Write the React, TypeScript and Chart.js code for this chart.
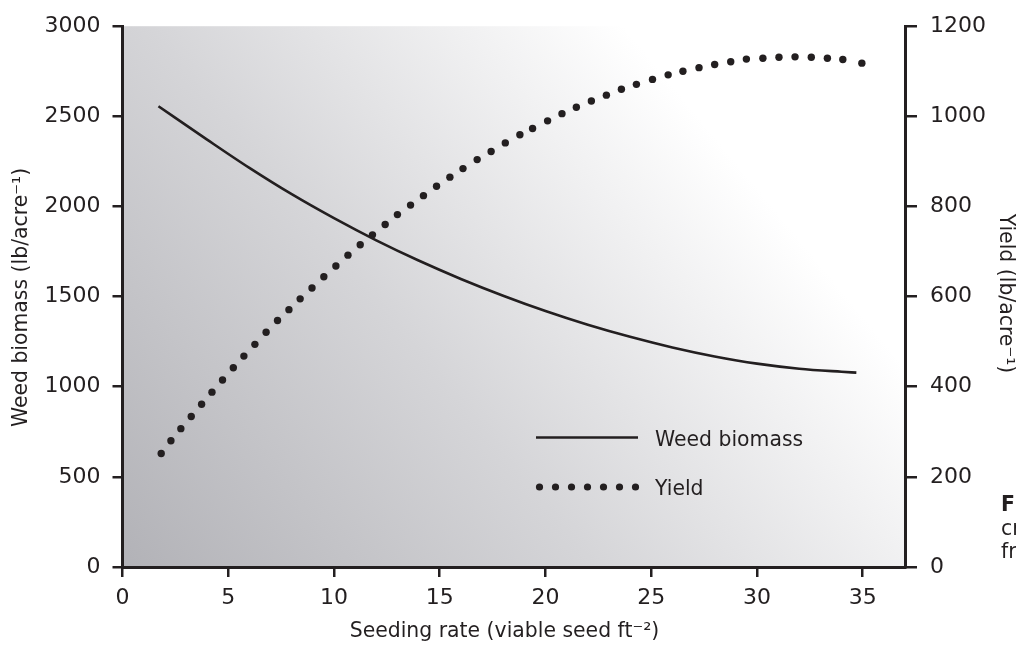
import React, { useEffect, useRef } from 'react';
import { Chart, registerables } from 'chart.js';

Chart.register(...registerables);

// ---- data ----
const xMin = 0;
const xMax = 37;
const xStep = 5;
const yLeftMax = 3000;
const yLeftStep = 500;
const yRightMax = 1200;
const yRightStep = 200;

const biomassX = [1.7, 4, 6, 8, 10, 12, 14, 16, 18, 20, 22, 24, 26, 28, 30, 32, 34, 34.7];
const biomassY = [2556, 2371, 2214, 2068, 1935, 1812, 1700, 1598, 1505, 1420, 1344, 1277, 1218, 1168, 1128, 1100, 1083, 1078];

const yieldX = [
  1.83, 2.29, 2.76, 3.25, 3.74, 4.23, 4.73, 5.24, 5.74, 6.26,
  6.79, 7.33, 7.87, 8.4, 8.96, 9.52, 10.09, 10.66, 11.24, 11.82,
  12.42, 13.0, 13.62, 14.23, 14.85, 15.48, 16.1, 16.77, 17.43, 18.1,
  18.79, 19.39, 20.1, 20.78, 21.46, 22.17, 22.88, 23.59, 24.3, 25.06,
  25.8, 26.5, 27.26, 28.0, 28.76, 29.5, 30.28, 31.04, 31.8, 32.57,
  33.33, 34.06, 34.96,
];
const yieldY = [
  252, 280, 307, 334, 361, 388, 415, 442, 468, 494,
  521, 547, 571, 595, 619, 644, 668, 692, 715, 737,
  760, 782, 803, 824, 845, 865, 884, 904, 922, 941,
  959, 973, 990, 1006, 1020, 1034, 1047, 1060, 1071, 1082,
  1092, 1100, 1108, 1115, 1121, 1127, 1129, 1131, 1132, 1131,
  1129, 1126, 1118,
];

const seriesLabels = ['Weed biomass', 'Yield'];
const xTitle = 'Seeding rate (viable seed ft\u207B\u00B2)';
const yLeftTitle = 'Weed biomass (lb/acre\u207B\u00B9)';
const yRightTitle = 'Yield (lb/acre\u207B\u00B9)';
const captionLines = ['Figure 3.', 'crop yield and weed', 'from seeding rate'];

// ---- styles ----
const INK = '#231f20';
const FAMILY = '"DejaVu Sans", sans-serif';
const TEXT_SIZE = 20.4;

const backgroundPlugin = {
  id: 'plotBackground',
  beforeDraw(chart: any) {
    const { ctx, chartArea: ca } = chart;
    const w = ca.right - ca.left;
    const h = ca.bottom - ca.top;
    const g = ctx.createLinearGradient(ca.left, ca.bottom, ca.left + 0.72 * w, ca.top + 0.14 * h);
    g.addColorStop(0, 'rgb(178,178,183)');
    g.addColorStop(0.5, 'rgb(213,213,216)');
    g.addColorStop(1, 'rgb(255,255,255)');
    ctx.save();
    ctx.fillStyle = g;
    ctx.fillRect(ca.left, ca.top, w, h);
    ctx.restore();
  },
};

const titlesPlugin = {
  id: 'axisTitles',
  afterDraw(chart: any) {
    const { ctx } = chart;
    ctx.save();
    ctx.fillStyle = INK;
    ctx.font = `${TEXT_SIZE}px ${FAMILY}`;
    ctx.textAlign = 'center';
    ctx.textBaseline = 'alphabetic';
    ctx.fillText(xTitle, 504.5, 637);

    ctx.save();
    ctx.translate(26.5, 297.5);
    ctx.rotate(-Math.PI / 2);
    ctx.fillText(yLeftTitle, 0, 0);
    ctx.restore();

    ctx.save();
    ctx.translate(999.6, 293.5);
    ctx.rotate(Math.PI / 2);
    ctx.fillText(yRightTitle, 0, 0);
    ctx.restore();
    ctx.restore();
  },
};

const legendPlugin = {
  id: 'insideLegend',
  afterDatasetsDraw(chart: any) {
    const { ctx } = chart;
    const ds = chart.data.datasets;
    ctx.save();
    ctx.strokeStyle = INK;
    ctx.lineWidth = 2.6;
    ctx.beginPath();
    ctx.moveTo(536, 437.5);
    ctx.lineTo(638, 437.5);
    ctx.stroke();
    ctx.fillStyle = INK;
    for (let i = 0; i < 7; i++) {
      ctx.beginPath();
      ctx.arc(539.5 + i * 16, 487, 3.6, 0, Math.PI * 2);
      ctx.fill();
    }
    ctx.font = `${TEXT_SIZE}px ${FAMILY}`;
    ctx.textAlign = 'left';
    ctx.textBaseline = 'alphabetic';
    ctx.fillText(ds[0].label, 655, 445.5);
    ctx.fillText(ds[1].label, 655, 494.5);
    ctx.restore();
  },
};

const plainTick = (v: any) => String(v);

export default function App() {
  const canvasRef = useRef<HTMLCanvasElement | null>(null);

  useEffect(() => {
    if (!canvasRef.current) return;
    const tickFont = { family: FAMILY, size: 22 };
    const grid = (len: number) => ({
      drawOnChartArea: false,
      drawTicks: true,
      tickLength: len,
      color: INK,
      lineWidth: 2.5,
    });
    const border = { display: true, color: INK, width: 3 };
    const chart = new Chart(canvasRef.current, {
      type: 'scatter',
      data: {
        datasets: [
          {
            label: seriesLabels[0],
            data: biomassX.map((x, i) => ({ x, y: biomassY[i] })),
            showLine: true,
            borderColor: INK,
            borderWidth: 2.6,
            pointRadius: 0,
            cubicInterpolationMode: 'monotone',
            yAxisID: 'y',
          } as any,
          {
            label: seriesLabels[1],
            data: yieldX.map((x, i) => ({ x, y: yieldY[i] })),
            showLine: false,
            backgroundColor: INK,
            borderColor: INK,
            borderWidth: 0,
            pointRadius: 3.7,
            yAxisID: 'y2',
          } as any,
        ],
      },
      plugins: [backgroundPlugin, legendPlugin, titlesPlugin],
      options: {
        responsive: false,
        animation: false,
        devicePixelRatio: 1,
        layout: { padding: { top: 20, left: 0, right: 0, bottom: 0 } },
        plugins: { legend: { display: false }, tooltip: { enabled: false } },
        scales: {
          x: {
            type: 'linear',
            position: 'bottom',
            min: xMin,
            max: xMax,
            afterFit: (s: any) => { s.height = 79; },
            ticks: { stepSize: xStep, includeBounds: false, color: INK, font: tickFont, padding: 8, maxRotation: 0, callback: plainTick },
            grid: grid(10),
            border,
          },
          y: {
            type: 'linear',
            position: 'left',
            min: 0,
            max: yLeftMax,
            afterFit: (s: any) => { s.width = 122.5; },
            ticks: { stepSize: yLeftStep, color: INK, font: tickFont, padding: 12, callback: plainTick },
            grid: grid(10),
            border,
          },
          y2: {
            type: 'linear',
            position: 'right',
            min: 0,
            max: yRightMax,
            afterFit: (s: any) => { s.width = 111; },
            ticks: { stepSize: yRightStep, color: INK, font: tickFont, padding: 13, callback: plainTick },
            grid: grid(12),
            border,
          },
        },
      } as any,
    });
    return () => chart.destroy();
  }, []);

  return (
    <div
      style={{
        position: 'absolute',
        left: 0,
        top: 0,
        width: 1016,
        height: 646,
        overflow: 'hidden',
        background: '#ffffff',
      }}
    >
      <canvas ref={canvasRef} width={1016} height={646} style={{ display: 'block', width: 1016, height: 646 }} />
      <div
        style={{
          position: 'absolute',
          left: 1001,
          top: 493.2,
          fontFamily: FAMILY,
          fontSize: TEXT_SIZE,
          lineHeight: '23.5px',
          color: INK,
          whiteSpace: 'nowrap',
        }}
      >
        <div style={{ fontWeight: 700 }}>{captionLines[0]}</div>
        <div>{captionLines[1]}</div>
        <div>{captionLines[2]}</div>
      </div>
    </div>
  );
}
